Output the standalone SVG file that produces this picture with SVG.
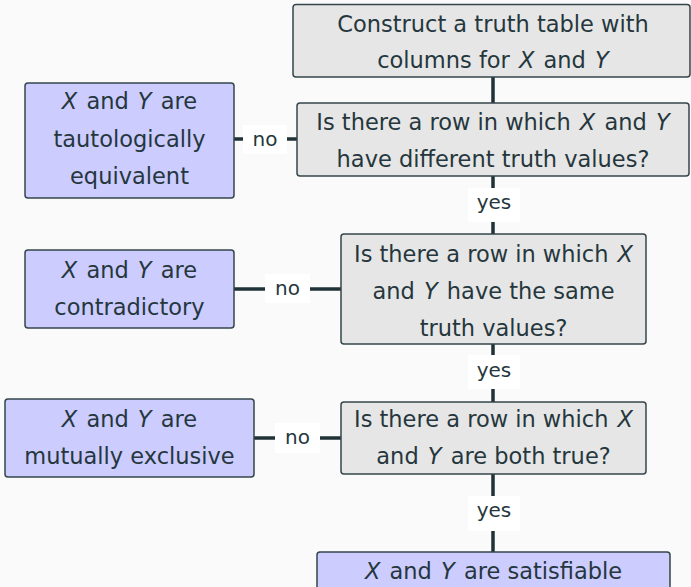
<svg xmlns="http://www.w3.org/2000/svg" width="691" height="587" viewBox="0 0 691 587">
<style>
text{font-family:"DejaVu Sans","Liberation Sans",sans-serif;font-size:22.5px;fill:#25373d;text-anchor:middle}
text.l{font-size:20px}
.i{font-style:italic}
.q{fill:#e6e6e6;stroke:#34454b;stroke-width:1.5}
.a{fill:#ccccff;stroke:#34454b;stroke-width:1.5}
.c{stroke:#1f3237;stroke-width:3.5;fill:none}
.lb{fill:#ffffff}
</style>
<rect width="691" height="587" fill="#fafafa"/>
<g id="connectors">
<line class="c" x1="493" y1="77" x2="493" y2="103"/>
<line class="c" x1="493" y1="176" x2="493" y2="234"/>
<line class="c" x1="493" y1="344" x2="493" y2="402"/>
<line class="c" x1="493" y1="474" x2="493" y2="552"/>
<line class="c" x1="234" y1="139" x2="297" y2="139"/>
<line class="c" x1="234" y1="289" x2="341" y2="289"/>
<line class="c" x1="254" y1="438" x2="341" y2="438"/>
<rect class="lb" x="468" y="188" width="52" height="34"/>
<text class="l" x="494" y="209">yes</text>
<rect class="lb" x="468" y="355" width="52" height="34"/>
<text class="l" x="494" y="377">yes</text>
<rect class="lb" x="468" y="496" width="52" height="35"/>
<text class="l" x="494" y="517">yes</text>
<rect class="lb" x="243" y="125" width="44" height="29"/>
<text class="l" x="265" y="146">no</text>
<rect class="lb" x="265" y="274" width="45" height="29"/>
<text class="l" x="287.5" y="295">no</text>
<rect class="lb" x="275" y="423" width="45" height="30"/>
<text class="l" x="297.5" y="444">no</text>
</g>
<g id="start">
<rect class="q" x="293" y="4.5" width="397" height="72.5" rx="3"/>
<text x="493" y="32">Construct a truth table with</text>
<text x="493" y="68">columns for<tspan class="i" dx="2"> X</tspan><tspan dx="2"> and</tspan><tspan class="i" dx="2"> Y</tspan></text>
</g>
<g id="q1">
<rect class="q" x="297" y="103" width="392" height="73" rx="3"/>
<text x="493" y="130">Is there a row in which<tspan class="i" dx="2"> X</tspan><tspan dx="2"> and</tspan><tspan class="i" dx="2"> Y</tspan></text>
<text x="493" y="167">have different truth values?</text>
</g>
<g id="equiv">
<rect class="a" x="25" y="83" width="209" height="115" rx="3"/>
<text x="129.5" y="109"><tspan class="i">X</tspan><tspan dx="2"> and</tspan><tspan class="i" dx="2"> Y</tspan><tspan dx="2"> are</tspan></text>
<text x="129.5" y="147">tautologically</text>
<text x="129.5" y="184">equivalent</text>
</g>
<g id="q2">
<rect class="q" x="341" y="234" width="305" height="110" rx="3"/>
<text x="493.5" y="262">Is there a row in which<tspan class="i" dx="2"> X</tspan></text>
<text x="493.5" y="299">and<tspan class="i" dx="2"> Y</tspan><tspan dx="2"> have the same</tspan></text>
<text x="493.5" y="336">truth values?</text>
</g>
<g id="contra">
<rect class="a" x="25" y="250" width="209" height="78" rx="3"/>
<text x="129.5" y="278"><tspan class="i">X</tspan><tspan dx="2"> and</tspan><tspan class="i" dx="2"> Y</tspan><tspan dx="2"> are</tspan></text>
<text x="129.5" y="315">contradictory</text>
</g>
<g id="q3">
<rect class="q" x="341" y="402" width="305" height="72" rx="3"/>
<text x="493.5" y="427">Is there a row in which<tspan class="i" dx="2"> X</tspan></text>
<text x="493.5" y="464">and<tspan class="i" dx="2"> Y</tspan><tspan dx="2"> are both true?</tspan></text>
</g>
<g id="mutex">
<rect class="a" x="5" y="399" width="249" height="78" rx="3"/>
<text x="129.5" y="427"><tspan class="i">X</tspan><tspan dx="2"> and</tspan><tspan class="i" dx="2"> Y</tspan><tspan dx="2"> are</tspan></text>
<text x="129.5" y="464">mutually exclusive</text>
</g>
<g id="sat">
<rect class="a" x="317" y="552" width="353" height="42" rx="3"/>
<text x="493.5" y="579"><tspan class="i">X</tspan><tspan dx="2"> and</tspan><tspan class="i" dx="2"> Y</tspan><tspan dx="2"> are satisfiable</tspan></text>
</g>
</svg>
